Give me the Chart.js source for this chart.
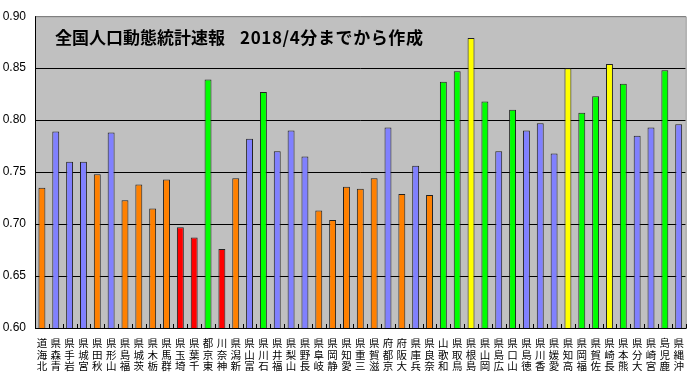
<!DOCTYPE html>
<html>
<head>
<meta charset="utf-8">
<script src="https://cdn.jsdelivr.net/npm/chart.js@4/dist/chart.umd.min.js"></script>
<style>
  html, body { margin: 0; padding: 0; background: #fff; }
  #wrap { width: 694px; height: 377px; position: relative; }
</style>
</head>
<body>
<div id="wrap"><canvas id="c"></canvas></div>
<script>
// ---- data ----
const titleMain = '全国人口動態統計速報';
const titleSub = '2018/4分までから作成';
const prefectures = [
  '北海道','青森県','岩手県','宮城県','秋田県','山形県','福島県','茨城県','栃木県','群馬県',
  '埼玉県','千葉県','東京都','神奈川','新潟県','富山県','石川県','福井県','山梨県','長野県',
  '岐阜県','静岡県','愛知県','三重県','滋賀県','京都府','大阪府','兵庫県','奈良県','和歌山',
  '鳥取県','島根県','岡山県','広島県','山口県','徳島県','香川県','愛媛県','高知県','福岡県',
  '佐賀県','長崎県','熊本県','大分県','宮崎県','鹿児島','沖縄県'
];
const ratios = [
  0.735,0.789,0.760,0.760,0.748,0.788,0.723,0.738,0.715,0.743,
  0.697,0.687,0.839,0.676,0.744,0.782,0.827,0.770,0.790,0.765,
  0.713,0.704,0.736,0.734,0.744,0.793,0.729,0.756,0.728,0.837,
  0.847,0.879,0.818,0.770,0.810,0.790,0.797,0.768,0.850,0.807,
  0.823,0.854,0.835,0.785,0.793,0.848,0.796
];
// group code for each prefecture (a: orange, b: blue, c: red, d: green, e: yellow)
const groups = [
  'a','b','b','b','a','b','a','a','a','a',
  'c','c','d','c','a','b','d','b','b','b',
  'a','a','a','a','a','b','a','b','a','d',
  'd','e','d','b','d','b','b','b','e','d',
  'd','e','d','b','b','d','b'
];
const yTicks = [0.60, 0.65, 0.70, 0.75, 0.80, 0.85, 0.90];

// ---- styling ----
const groupColors = { a: '#FF8000', b: '#8080FF', c: '#FF0000', d: '#00FF00', e: '#FFFF00' };
const labels = prefectures.map(p => Array.from(p).reverse());

const framePlugin = {
  id: 'frame',
  beforeDraw(chart) {
    const { ctx, chartArea: a } = chart;
    ctx.save();
    ctx.fillStyle = '#ffffff';
    ctx.fillRect(0, 0, chart.width, chart.height);
    ctx.fillStyle = '#C0C0C0';
    ctx.fillRect(a.left, a.top, a.right - a.left, a.bottom - a.top);
    ctx.restore();
  },
  afterDraw(chart) {
    const { ctx, chartArea: a } = chart;
    ctx.save();
    ctx.lineWidth = 1;
    // top and right border (gray)
    ctx.strokeStyle = '#808080';
    ctx.beginPath();
    ctx.moveTo(a.left, a.top + 0.5); ctx.lineTo(a.right + 0.5, a.top + 0.5);
    ctx.lineTo(a.right + 0.5, a.bottom);
    ctx.stroke();
    // left and bottom axis (black)
    ctx.strokeStyle = '#000';
    ctx.beginPath();
    ctx.moveTo(a.left + 0.5, a.top); ctx.lineTo(a.left + 0.5, a.bottom + 0.5);
    ctx.lineTo(a.right + 1, a.bottom + 0.5);
    ctx.stroke();
    // inner category tick marks
    const xs = chart.scales.x;
    const n = prefectures.length;
    ctx.beginPath();
    for (let i = 0; i <= n; i++) {
      const x = Math.round(xs.getPixelForValue(i - 0.5)) + 0.5;
      ctx.moveTo(x, a.bottom);
      ctx.lineTo(x, a.bottom - 4);
    }
    ctx.stroke();
    // title inside plot
    ctx.fillStyle = '#000';
    ctx.font = 'bold 17px "Noto Sans CJK JP"';
    ctx.textBaseline = 'middle';
    ctx.textAlign = 'left';
    ctx.fillText(titleMain, a.left + 20, a.top + 21);
    ctx.letterSpacing = '0.6px';
    ctx.fillText(titleSub, a.left + 205, a.top + 21);
    ctx.restore();
  }
};

new Chart(document.getElementById('c'), {
  type: 'bar',
  data: {
    labels: labels,
    datasets: [{
      data: ratios,
      backgroundColor: groups.map(g => groupColors[g]),
      borderColor: '#202020',
      borderWidth: 1,
      barPercentage: 0.5,
      categoryPercentage: 1.0
    }]
  },
  options: {
    responsive: true,
    maintainAspectRatio: false,
    animation: false,
    layout: { padding: { top: 13, right: 6, left: 0, bottom: 0 } },
    plugins: { legend: { display: false }, tooltip: { enabled: false }, title: { display: false } },
    scales: {
      x: {
        offset: true,
        grid: { display: false, drawTicks: false },
        border: { display: false },
        ticks: {
          autoSkip: false, maxRotation: 0, minRotation: 0, padding: 10,
          color: '#000',
          font: { family: '"Noto Sans CJK JP"', size: 10.5, lineHeight: 1.05 }
        },
        afterFit(s) { s.height = 49; }
      },
      y: {
        min: 0.6, max: 0.9,
        afterBuildTicks(s) { s.ticks = yTicks.map(v => ({ value: v })); },
        grid: {
          drawTicks: false,
          color: c => (c.tick && Math.abs(c.tick.value - 0.9) < 1e-9) ? '#808080' : '#000',
          lineWidth: 1
        },
        border: { display: false },
        ticks: {
          padding: 9,
          color: '#000',
          font: { family: '"Liberation Sans", Arial', size: 12 },
          callback: v => Number(v).toFixed(2)
        },
        afterFit(s) { s.width = 35; }
      }
    }
  },
  plugins: [framePlugin]
});
</script>
</body>
</html>
